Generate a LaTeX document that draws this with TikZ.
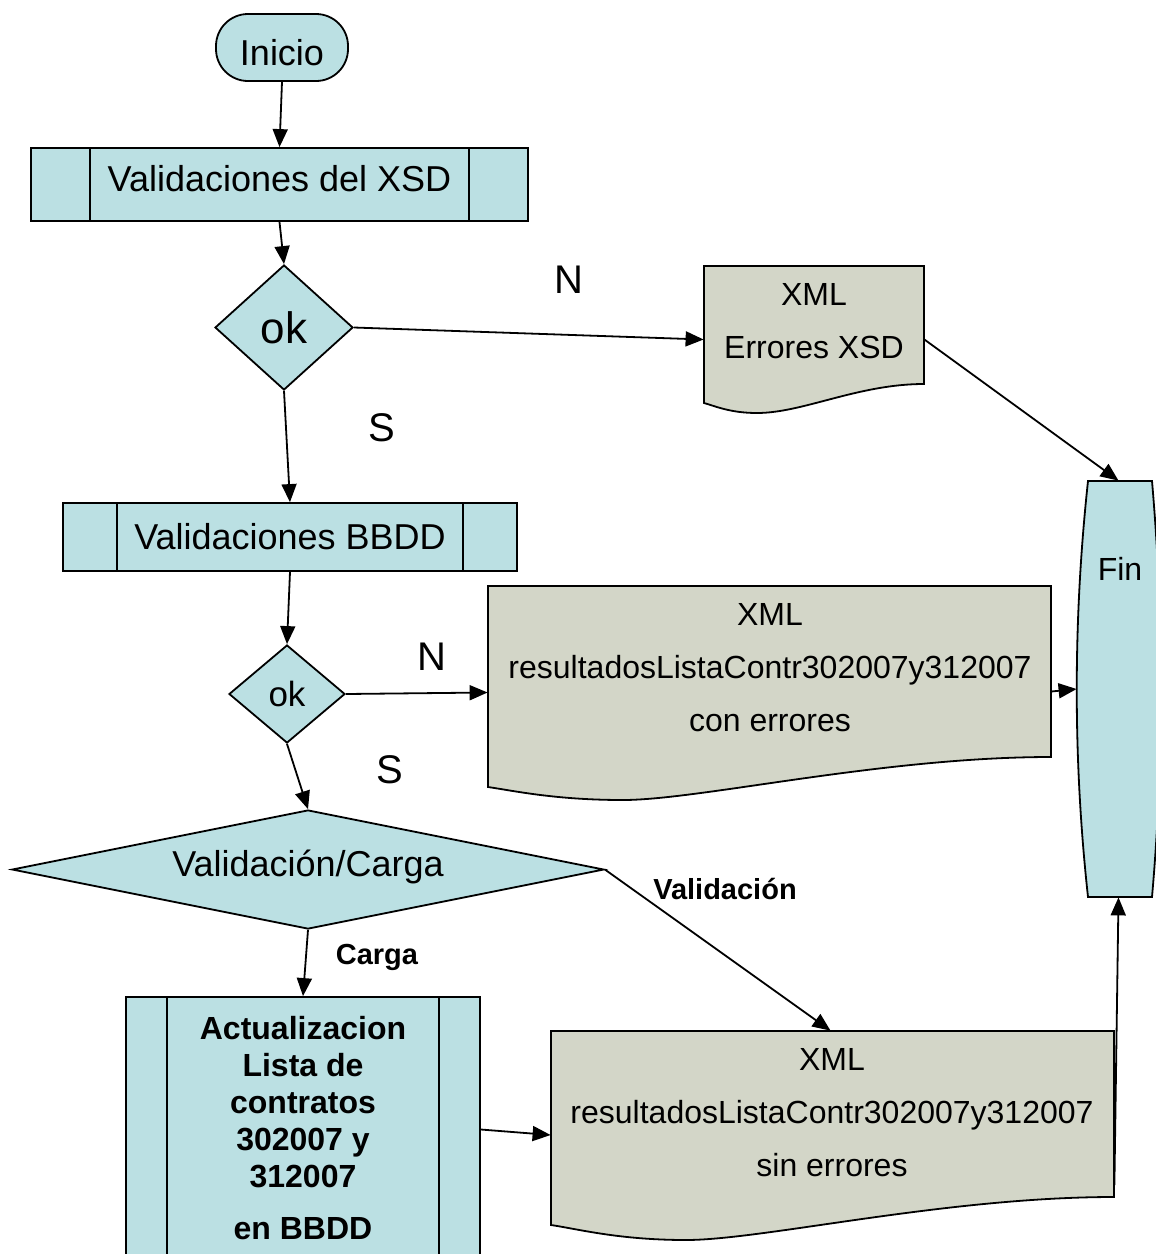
\documentclass[tikz,border=0pt]{standalone}
\usepackage{fontspec}
\setmainfont{Liberation Sans}
\usetikzlibrary{shapes.geometric,arrows.meta}
\definecolor{blu}{RGB}{187,224,227}
\definecolor{gry}{RGB}{211,214,200}
\tikzset{
  shp/.style={draw=black, line width=0.9pt, fill=blu, inner sep=0pt},
  procbox/.style={shp, rectangle},
  decis/.style={shp, diamond},
  docbody/.style={rectangle, draw=none, inner sep=0pt},
  docline/.style={draw=black, line width=0.9pt, fill=gry},
  conn/.style={line width=0.9pt, -{Triangle[length=9pt,width=7.5pt]}},
  lbl/.style={inner sep=0pt},
}
\begin{document}
\begin{tikzpicture}[x=0.5pt,y=-0.5pt]
\clip (0,0) rectangle (1156,1254);
\fill[white] (0,0) rectangle (1156,1254);

% Inicio
\node[shp, rectangle, rounded corners=16pt, minimum width=66pt, minimum height=33.5pt, text height=18pt, text depth=0pt, font=\fontsize{18}{21}\selectfont] (ini) at (282,47.5) {Inicio};

% Validaciones del XSD
\node[procbox, minimum width=248.5pt, minimum height=36.5pt, text height=13pt, text depth=6pt, font=\fontsize{18}{21}\selectfont] (xsd) at (279.5,184.5) {Validaciones del XSD};
\draw[line width=0.9pt] ([xshift=30pt]xsd.north west) -- ([xshift=30pt]xsd.south west);
\draw[line width=0.9pt] ([xshift=-30pt]xsd.north east) -- ([xshift=-30pt]xsd.south east);

% ok 1
\node[decis, minimum width=69pt, minimum height=62.5pt, font=\fontsize{22}{26}\selectfont] (ok1) at (284,327.5) {ok};

% Doc 1
\node[docbody, minimum width=110pt, minimum height=68.5pt] (d1) at (814,334.5) {};
\path[docline] (704,266) -- (924,266) -- (924,384)
  .. controls (858,384) and (803,413) .. (757,413)
  .. controls (730,413) and (715,406) .. (704,403) -- cycle;
\node[lbl, align=center, font=\fontsize{16}{26.5}\selectfont] (d1t) at (814,321.5) {XML\\Errores XSD};

% Fin
\node[docbody, minimum width=41.5pt, minimum height=208pt] (fin) at (1118.5,689) {};
\path[shp] (1088,481) -- (1152,481) .. controls (1164,620) and (1164,760) .. (1152,897)
  -- (1088,897) .. controls (1073,760) and (1073,620) .. (1088,481) -- cycle;
\node[lbl, font=\fontsize{16}{19}\selectfont] (fint) at (1120,569) {Fin};

% Validaciones BBDD
\node[procbox, minimum width=227pt, minimum height=34pt, font=\fontsize{18}{21}\selectfont] (bbdd) at (290,537) {Validaciones BBDD};
\draw[line width=0.9pt] ([xshift=27.5pt]bbdd.north west) -- ([xshift=27.5pt]bbdd.south west);
\draw[line width=0.9pt] ([xshift=-27.5pt]bbdd.north east) -- ([xshift=-27.5pt]bbdd.south east);

% ok 2
\node[decis, minimum width=58pt, minimum height=49pt, font=\fontsize{17.5}{21}\selectfont] (ok2) at (287,694) {ok};

% Doc 2
\node[docbody, minimum width=281.5pt, minimum height=100.5pt] (d2) at (769.5,686.5) {};
\path[docline] (488,586) -- (1051,586) -- (1051,757)
  .. controls (882,757) and (700,800) .. (623,800)
  .. controls (556,800) and (515,791) .. (488,787) -- cycle;
\node[lbl, align=center, font=\fontsize{16}{26.5}\selectfont] (d2t) at (770,667.5) {XML\\resultadosListaContr302007y312007\\con errores};

% Validacion / Carga
\node[decis, minimum width=296pt, minimum height=59.5pt, font=\fontsize{18}{21}\selectfont] (vc) at (308,869.5) {};
\node[lbl, font=\fontsize{18}{21}\selectfont] (vct) at (308,867) {Validación/Carga};

% Actualizacion box
\node[procbox, minimum width=177pt, minimum height=136.5pt] (act) at (303,1133.5) {};
\draw[line width=0.9pt] ([xshift=21pt]act.north west) -- ([xshift=21pt]act.south west);
\draw[line width=0.9pt] ([xshift=-21pt]act.north east) -- ([xshift=-21pt]act.south east);
\node[lbl, align=center, font=\bfseries\fontsize{16}{18.5}\selectfont] (actt) at (303,1128) {Actualizacion\\Lista de\\contratos\\302007 y\\312007\\[7.5pt]en BBDD};

% Doc 3
\node[docbody, minimum width=281.5pt, minimum height=97pt] (d3) at (832.5,1128) {};
\path[docline] (551,1031) -- (1114,1031) -- (1114,1197)
  .. controls (945,1197) and (763,1240) .. (686,1240)
  .. controls (619,1240) and (578,1229) .. (551,1225) -- cycle;
\node[lbl, align=center, font=\fontsize{16}{26.5}\selectfont] (d3t) at (832,1113) {XML\\resultadosListaContr302007y312007\\sin errores};

% Labels
\node[lbl, font=\fontsize{20}{24}\selectfont] (n1) at (569,280) {N};
\node[lbl, font=\fontsize{20}{24}\selectfont] (s1) at (382,428) {S};
\node[lbl, font=\fontsize{20}{24}\selectfont] (n2) at (432,657) {N};
\node[lbl, font=\fontsize{20}{24}\selectfont] (s2) at (390,770) {S};
\node[lbl, font=\bfseries\fontsize{14.5}{17}\selectfont] (lv) at (725,889) {Validación};
\node[lbl, font=\bfseries\fontsize{14.5}{17}\selectfont] (lc) at (377,957) {Carga};

% Connectors
\draw[conn] (ini.south) -- (xsd.north);
\draw[conn] (xsd.south) -- (ok1.north);
\draw[conn] (ok1.east) -- ([yshift=-2.5pt]d1.west);
\draw[conn] ([yshift=-2.5pt]d1.east) -- (fin.north);
\draw[conn] (ok1.south) -- (bbdd.north);
\draw[conn] (bbdd.south) -- (ok2.north);
\draw[conn] (ok2.east) -- ([yshift=-3pt]d2.west);
\draw[conn] ([yshift=-2.5pt]d2.east) -- (fin.west);
\draw[conn] (ok2.south) -- (vc.north);
\draw[conn] (vc.east) -- ([xshift=-1pt]d3.north);
\draw[conn] (vc.south) -- (act.north);
\draw[conn] ([yshift=2pt]act.east) -- ([yshift=-3.5pt]d3.west);
\draw[conn] ([yshift=-28.5pt]d3.east) -- (fin.south);
\end{tikzpicture}
\end{document}
